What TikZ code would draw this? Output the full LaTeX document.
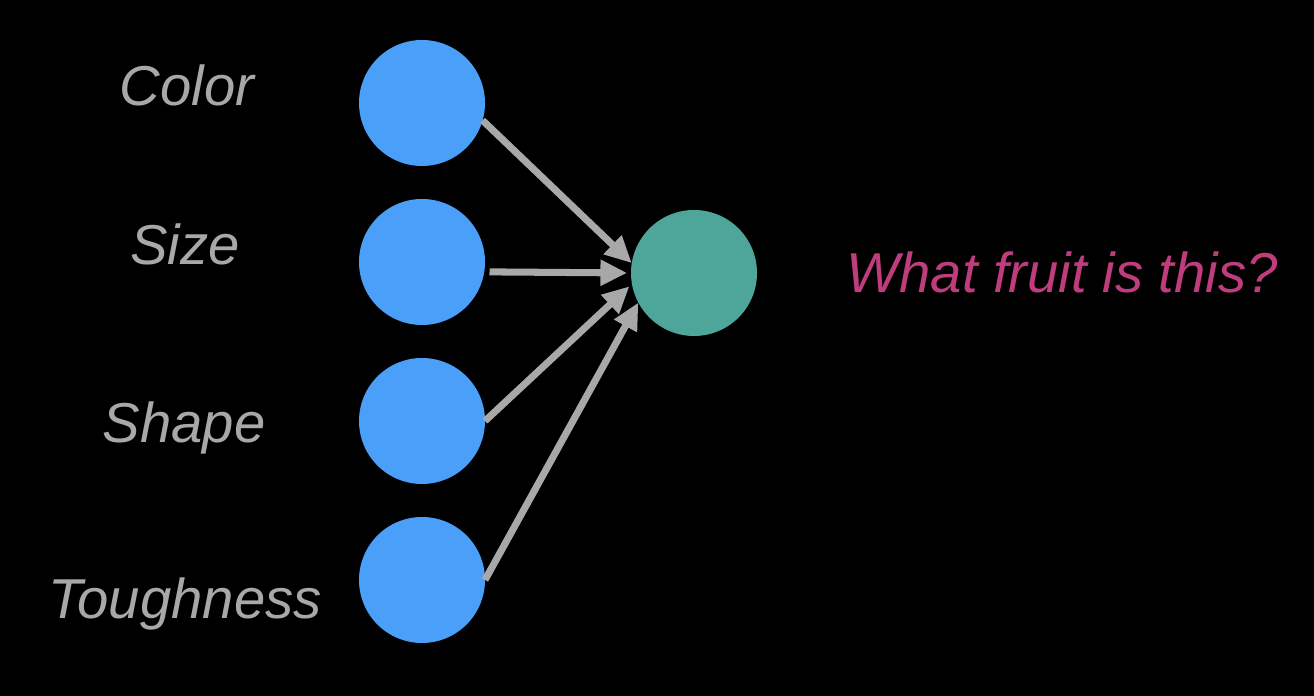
\documentclass[tikz,border=0pt]{standalone}
\usepackage{fontspec}
\setmainfont{Liberation Sans}
\usetikzlibrary{arrows.meta,positioning}
\definecolor{inblue}{HTML}{4A9FF9}
\definecolor{outgreen}{HTML}{4EA69B}
\definecolor{wiregrey}{HTML}{A8A8A8}
\definecolor{askpink}{HTML}{BF3C7D}
\tikzset{
  inputnode/.style={circle,fill=inblue,minimum size=1.26cm,inner sep=0pt,outer sep=0pt},
  outnode/.style={circle,fill=outgreen,minimum size=1.26cm,inner sep=0pt,outer sep=0pt},
  featname/.style={anchor=base,text=wiregrey,font=\fontsize{16}{19}\selectfont\itshape},
  question/.style={anchor=base,text=askpink,font=\fontsize{16}{19}\selectfont\itshape},
  link/.style={draw=wiregrey,line width=2pt,-{Triangle[length=7.6pt,width=7pt,fill=wiregrey]}}
}
\begin{document}
\begin{tikzpicture}[node distance=1.59cm,on grid]
   \fill[black] (0,0) rectangle (13.14,6.96);
   \useasboundingbox (0,0) rectangle (13.14,6.96);
   \node[inputnode] (col) at (4.22,5.93) {};
   \node[inputnode] (siz) [below=of col] {};
   \node[inputnode] (shp) [below=of siz] {};
   \node[inputnode] (tgh) [below=of shp] {};
   \node[outnode] (fruit) at (6.94,4.23) {};
   \node[featname] (colname) at (1.87,5.90) {Color};
   \node[featname] (sizname) at (1.85,4.31) {Size};
   \node[featname] (shpname) at (1.84,2.53) {Shape};
   \node[featname] (tghname) at (1.85,0.78) {Toughness};
   \node[question] (ask) at (10.62,4.03) {What fruit is this?};
    \path
    (col.-16) edge [link] (fruit.171)
    (siz.-9) edge [link,shorten <=1.5pt,shorten >=1.1pt] (fruit.180)
    (shp.0) edge [link,shorten >=1pt] (fruit.190)
    (tgh.0) edge [link] (fruit.208);
\end{tikzpicture}
\end{document}
